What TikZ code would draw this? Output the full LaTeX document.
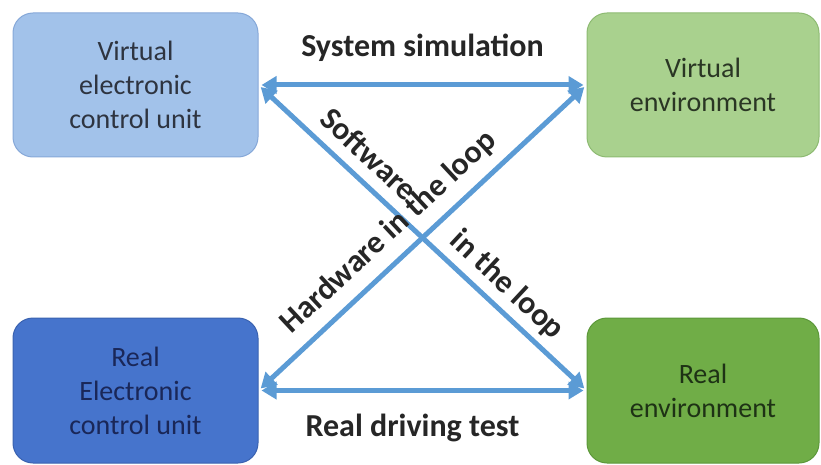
\documentclass[tikz,border=0pt]{standalone}
\usepackage{fontspec}
\setmainfont{Carlito}
\usetikzlibrary{arrows.meta}

\definecolor{arrowblue}{HTML}{5B9BD5}
\definecolor{vecufill}{HTML}{A2C2EA}
\definecolor{veculine}{HTML}{86A8D8}
\definecolor{vecutext}{HTML}{2E3440}
\definecolor{venvfill}{HTML}{A9D18E}
\definecolor{venvline}{HTML}{8DBA72}
\definecolor{venvtext}{HTML}{2A3624}
\definecolor{recufill}{HTML}{4674CC}
\definecolor{reculine}{HTML}{3A62B0}
\definecolor{recutext}{HTML}{1A2758}
\definecolor{renvfill}{HTML}{70AD47}
\definecolor{renvline}{HTML}{5C983A}
\definecolor{renvtext}{HTML}{1E3215}
\definecolor{labeltext}{HTML}{262626}

\tikzset{
  unitbox/.style={rounded corners=20pt, line width=1pt, align=center,
    inner sep=0pt, font=\fontsize{28}{34}\selectfont},
  link/.style={line width=5pt, draw=arrowblue,
    {Triangle[length=15pt,width=17pt]}-{Triangle[length=15pt,width=17pt]},
    shorten <=3pt, shorten >=3pt},
  linklabel/.style={font=\bfseries\fontsize{32}{36}\selectfont,
    text=labeltext, anchor=base, inner sep=0pt}
}

\begin{document}
\begin{tikzpicture}[x=1pt, y=-1pt]
  \useasboundingbox (0,0) rectangle (821,465);

  % the four units
  \node[unitbox, fill=vecufill, draw=veculine, text=vecutext,
        minimum width=245pt, minimum height=144pt]
        (vecu) at (135.5,85) {Virtual\\electronic\\control unit};
  \node[unitbox, fill=venvfill, draw=venvline, text=venvtext,
        minimum width=232pt, minimum height=144pt]
        (venv) at (703,85) {Virtual\\environment};
  \node[unitbox, fill=recufill, draw=reculine, text=recutext,
        minimum width=245pt, minimum height=145pt]
        (recu) at (135.5,390.5) {Real\\Electronic\\control unit};
  \node[unitbox, fill=renvfill, draw=renvline, text=renvtext,
        minimum width=232pt, minimum height=145pt]
        (renv) at (703,390.5) {Real\\environment};

  % test configurations between them
  \draw[link] (vecu.east) -- node[linklabel, midway, yshift=28pt]
        {System simulation} (venv.west);
  \draw[link] (recu.east) -- node[linklabel, midway, xshift=-10pt, yshift=-46pt]
        {Real driving test} (renv.west);
  \draw[link] (vecu.east) --
        node[linklabel, sloped, pos=0.286, yshift=14pt] {Software}
        node[linklabel, sloped, pos=0.71, yshift=14pt] {in the loop}
        (renv.west);
  \draw[link] (recu.east) --
        node[linklabel, sloped, pos=0.453, yshift=18pt] {Hardware in the loop}
        (venv.west);
\end{tikzpicture}
\end{document}
